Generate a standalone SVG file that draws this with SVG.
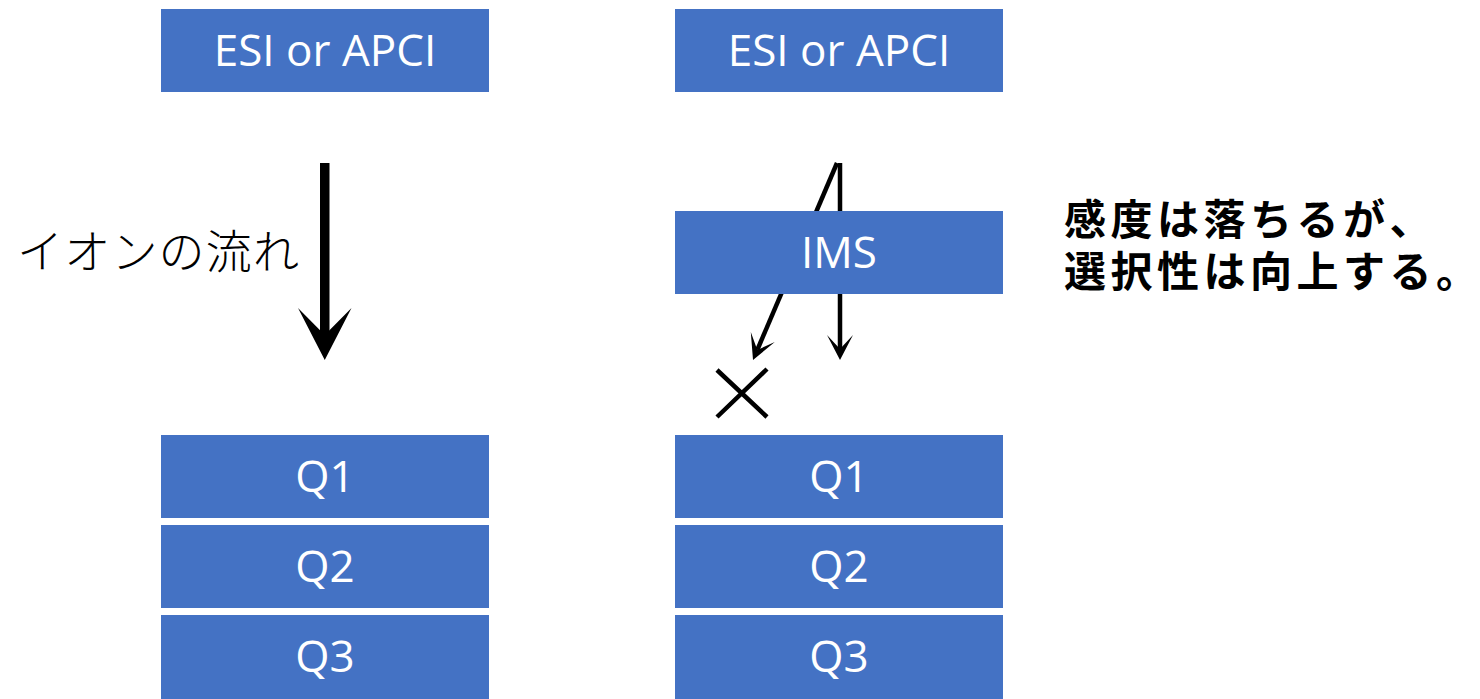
<svg xmlns="http://www.w3.org/2000/svg" width="1480" height="699" viewBox="0 0 1480 699">
<style>
.box{fill:#4472C4}
.lbl{fill:#ffffff;font-family:"Open Sans","Noto Sans",sans-serif;font-size:44px;text-anchor:middle}
.jp{font-family:"Noto Sans CJK JP","Noto Sans CJK SC",sans-serif;fill:#000}
.note{font-size:42px;font-weight:700;letter-spacing:4.5px}
.ln{stroke:#000;stroke-width:4.5;fill:none}
.hd{fill:#000}
</style>
<rect width="1480" height="699" fill="#fff"/>
<g id="connectors">
<rect x="320" y="163" width="9.5" height="175" fill="#000"/>
<polygon class="hd" points="324.75,360 298,308 324.75,335 351.5,308"/>
<path class="ln" d="M837,163 L757.3,349.9"/>
<polygon class="hd" points="753,360 750.8,331.9 757.3,349.9 774.8,342.1"/>
<path class="ln" d="M840,163 L840,350"/>
<polygon class="hd" points="840,360 827,335 840,349 853,335"/>
</g>
<g id="esi-left"><rect class="box" x="161" y="9" width="328" height="83"/><text class="lbl" x="325" y="66">ESI or APCI</text></g>
<g id="q1-left"><rect class="box" x="161" y="435" width="328" height="83"/><text class="lbl" x="325" y="492">Q1</text></g>
<g id="q2-left"><rect class="box" x="161" y="525" width="328" height="83"/><text class="lbl" x="325" y="582">Q2</text></g>
<g id="q3-left"><rect class="box" x="161" y="615" width="328" height="84"/><text class="lbl" x="325" y="672">Q3</text></g>
<g id="esi-right"><rect class="box" x="675" y="9" width="328" height="83"/><text class="lbl" x="839" y="66">ESI or APCI</text></g>
<g id="ims"><rect class="box" x="675" y="211" width="328" height="83"/><text class="lbl" x="839" y="268">IMS</text></g>
<g id="q1-right"><rect class="box" x="675" y="435" width="328" height="83"/><text class="lbl" x="839" y="492">Q1</text></g>
<g id="q2-right"><rect class="box" x="675" y="525" width="328" height="83"/><text class="lbl" x="839" y="582">Q2</text></g>
<g id="q3-right"><rect class="box" x="675" y="615" width="328" height="84"/><text class="lbl" x="839" y="672">Q3</text></g>
<g id="cross">
<path class="ln" d="M717,370 L767,417 M767,369 L717,417"/>
</g>
<g id="flow-label"><text class="jp" x="17" y="268" font-size="46" font-weight="300" letter-spacing="1.2">イオンの流れ</text></g>
<g id="note">
<text class="jp note" x="1064" y="235">感度は落ちるが<tspan letter-spacing="0">、</tspan></text>
<text class="jp note" x="1064" y="287">選択性は向上する<tspan letter-spacing="0">。</tspan></text>
</g>
</svg>
